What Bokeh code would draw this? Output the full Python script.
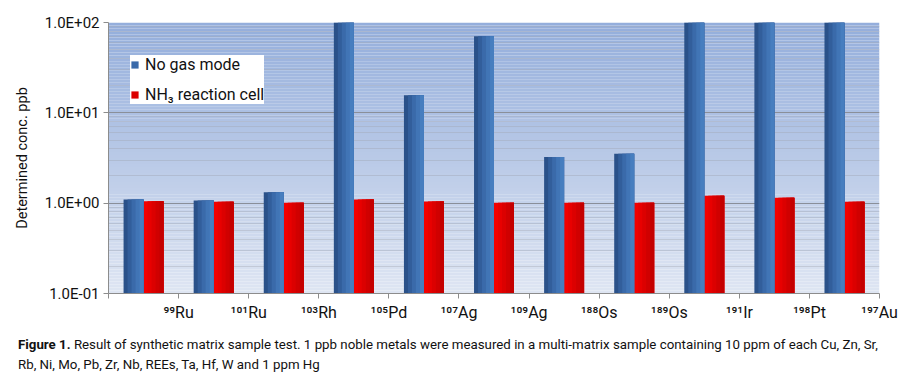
import numpy as np
from bokeh.plotting import figure
from bokeh.models import (Range1d, FixedTicker, CustomJSTickFormatter, Legend,
                          LegendItem, Div)
from bokeh.layouts import column
from bokeh.embed import file_html
from bokeh.resources import INLINE

# ---------------- data ----------------
isotopes = ["⁹⁹Ru", "¹⁰¹Ru", "¹⁰³Rh", "¹⁰⁵Pd", "¹⁰⁷Ag", "¹⁰⁹Ag",
            "¹⁸⁸Os", "¹⁸⁹Os", "¹⁹¹Ir", "¹⁹⁸Pt", "¹⁹⁷Au"]
no_gas_mode = [1.10, 1.07, 1.32, 100, 15.7, 70.5, 3.24, 3.53, 100, 100, 100]
nh3_cell = [1.05, 1.035, 1.01, 1.10, 1.045, 1.01, 1.01, 1.01, 1.21, 1.15, 1.035]
y_ticks = [0.1, 1, 10, 100]
series_names = ["No gas mode", "NH₃ reaction cell"]

FONT = "Roboto"
n = len(isotopes)
y_min, y_max = y_ticks[0], y_ticks[-1]

p = figure(width=902, height=330, x_range=Range1d(0, n), y_range=Range1d(y_min, y_max),
           y_axis_type="log", output_backend="svg", toolbar_location=None,
           min_border_left=108, min_border_right=23, min_border_top=22, min_border_bottom=37,
           background_fill_color="white", border_fill_color="white",
           outline_line_color=None)

# background gradient (decoration)
nb = 90
edges = np.logspace(np.log10(y_min), np.log10(y_max), nb + 1)
top_c = np.array([148, 174, 220])
bot_c = np.array([223, 230, 243])
cols = []
for i in range(nb):
    t = (i + 0.5) / nb
    c = bot_c + (top_c - bot_c) * t
    cols.append("#%02x%02x%02x" % tuple(int(v) for v in c))
p.quad(left=0, right=n, bottom=edges[:-1], top=edges[1:], fill_color=cols,
       line_color=None, level="image")

# bars with horizontal shading (overlapping layers, no seams)
xc = np.arange(n) + 0.5
bw = 0.285
blue_strips = ["#2a5189", "#325e9b", "#3a6aaa", "#4175b6", "#477ebf"]
red_strips = ["#f20000", "#e80000", "#dc0000", "#d00000", "#c40000"]
ns = len(blue_strips)
sw = bw / ns
legend_blue = None
legend_red = None
for k in range(ns):
    wk = bw - sw * k
    rb = p.vbar(x=xc - bw + sw * k + wk / 2, width=wk, bottom=y_min, top=no_gas_mode,
                fill_color=blue_strips[k], line_color=None)
    rr = p.vbar(x=xc + sw * k + wk / 2, width=wk, bottom=y_min, top=nh3_cell,
                fill_color=red_strips[k], line_color=None)
    if k == 2:
        legend_blue, legend_red = rb, rr

# axes
p.xaxis.ticker = FixedTicker(ticks=list(range(n + 1)))
p.xaxis.formatter = CustomJSTickFormatter(args=dict(labels=isotopes), code="""
const i = Math.round(tick);
return i >= 1 ? labels[i - 1] : '';
""")
p.xaxis.major_tick_out = 5
p.xaxis.major_tick_in = 0
p.xaxis.minor_tick_out = 0
p.xaxis.minor_tick_in = 0
p.xaxis.axis_line_color = "#8c8c8c"
p.xaxis.major_tick_line_color = "#8c8c8c"
p.xaxis.major_label_text_font = FONT
p.xaxis.major_label_text_font_size = "16px"
p.xaxis.major_label_text_color = "#111111"
p.xaxis.major_label_standoff = 4
p.xgrid.visible = False

minor = [m * 10.0 ** e for e in range(-1, 2) for m in range(2, 10)]
p.yaxis.ticker = FixedTicker(ticks=y_ticks, minor_ticks=minor)
p.yaxis.formatter = CustomJSTickFormatter(code="""
const e = Math.round(Math.log10(tick));
return '1.0E' + (e < 0 ? '-' : '+') + String(Math.abs(e)).padStart(2, '0');
""")
p.yaxis.major_tick_out = 5
p.yaxis.major_tick_in = 0
p.yaxis.minor_tick_out = 0
p.yaxis.minor_tick_in = 0
p.yaxis.axis_line_color = "#8c8c8c"
p.yaxis.major_tick_line_color = "#8c8c8c"
p.yaxis.major_label_text_font = FONT
p.yaxis.major_label_text_font_size = "15px"
p.yaxis.major_label_text_color = "#111111"
p.yaxis.major_label_standoff = 4
p.yaxis.axis_label = "Determined conc. ppb"
p.yaxis.axis_label_text_font = FONT
p.yaxis.axis_label_text_font_size = "14.5px"
p.yaxis.axis_label_text_font_style = "normal"
p.yaxis.axis_label_text_color = "#111111"
p.yaxis.axis_label_standoff = 11

p.ygrid.grid_line_color = "#8a8f99"
p.ygrid.grid_line_width = 1
p.ygrid.minor_grid_line_color = "#a3abbb"
p.ygrid.minor_grid_line_alpha = 0.5

legend = Legend(items=[LegendItem(label=series_names[0], renderers=[legend_blue]),
                       LegendItem(label=series_names[1], renderers=[legend_red])],
                location=(22, 189), background_fill_color="white", background_fill_alpha=1,
                border_line_color=None, label_text_font=FONT, label_text_font_size="16px",
                label_text_color="#111111", glyph_width=9, glyph_height=9,
                label_height=18, spacing=11, padding=8, margin=0, label_standoff=6)
p.add_layout(legend)

caption = Div(
    text=("<b>Figure 1.</b> Result of synthetic matrix sample test. 1 ppb noble metals were "
          "measured in a multi-matrix sample containing 10 ppm of each Cu, Zn, Sr,<br>"
          "Rb, Ni, Mo, Pb, Zr, Nb, REEs, Ta, Hf, W and 1 ppm Hg"),
    width=902, height=46,
    styles={"font-family": FONT, "font-size": "13.3px", "line-height": "20px",
            "color": "#111111", "padding-left": "13px", "padding-top": "0px",
            "white-space": "nowrap"})

layout = column(p, caption, spacing=0)
open("out.html", "w").write(file_html(layout, INLINE))
